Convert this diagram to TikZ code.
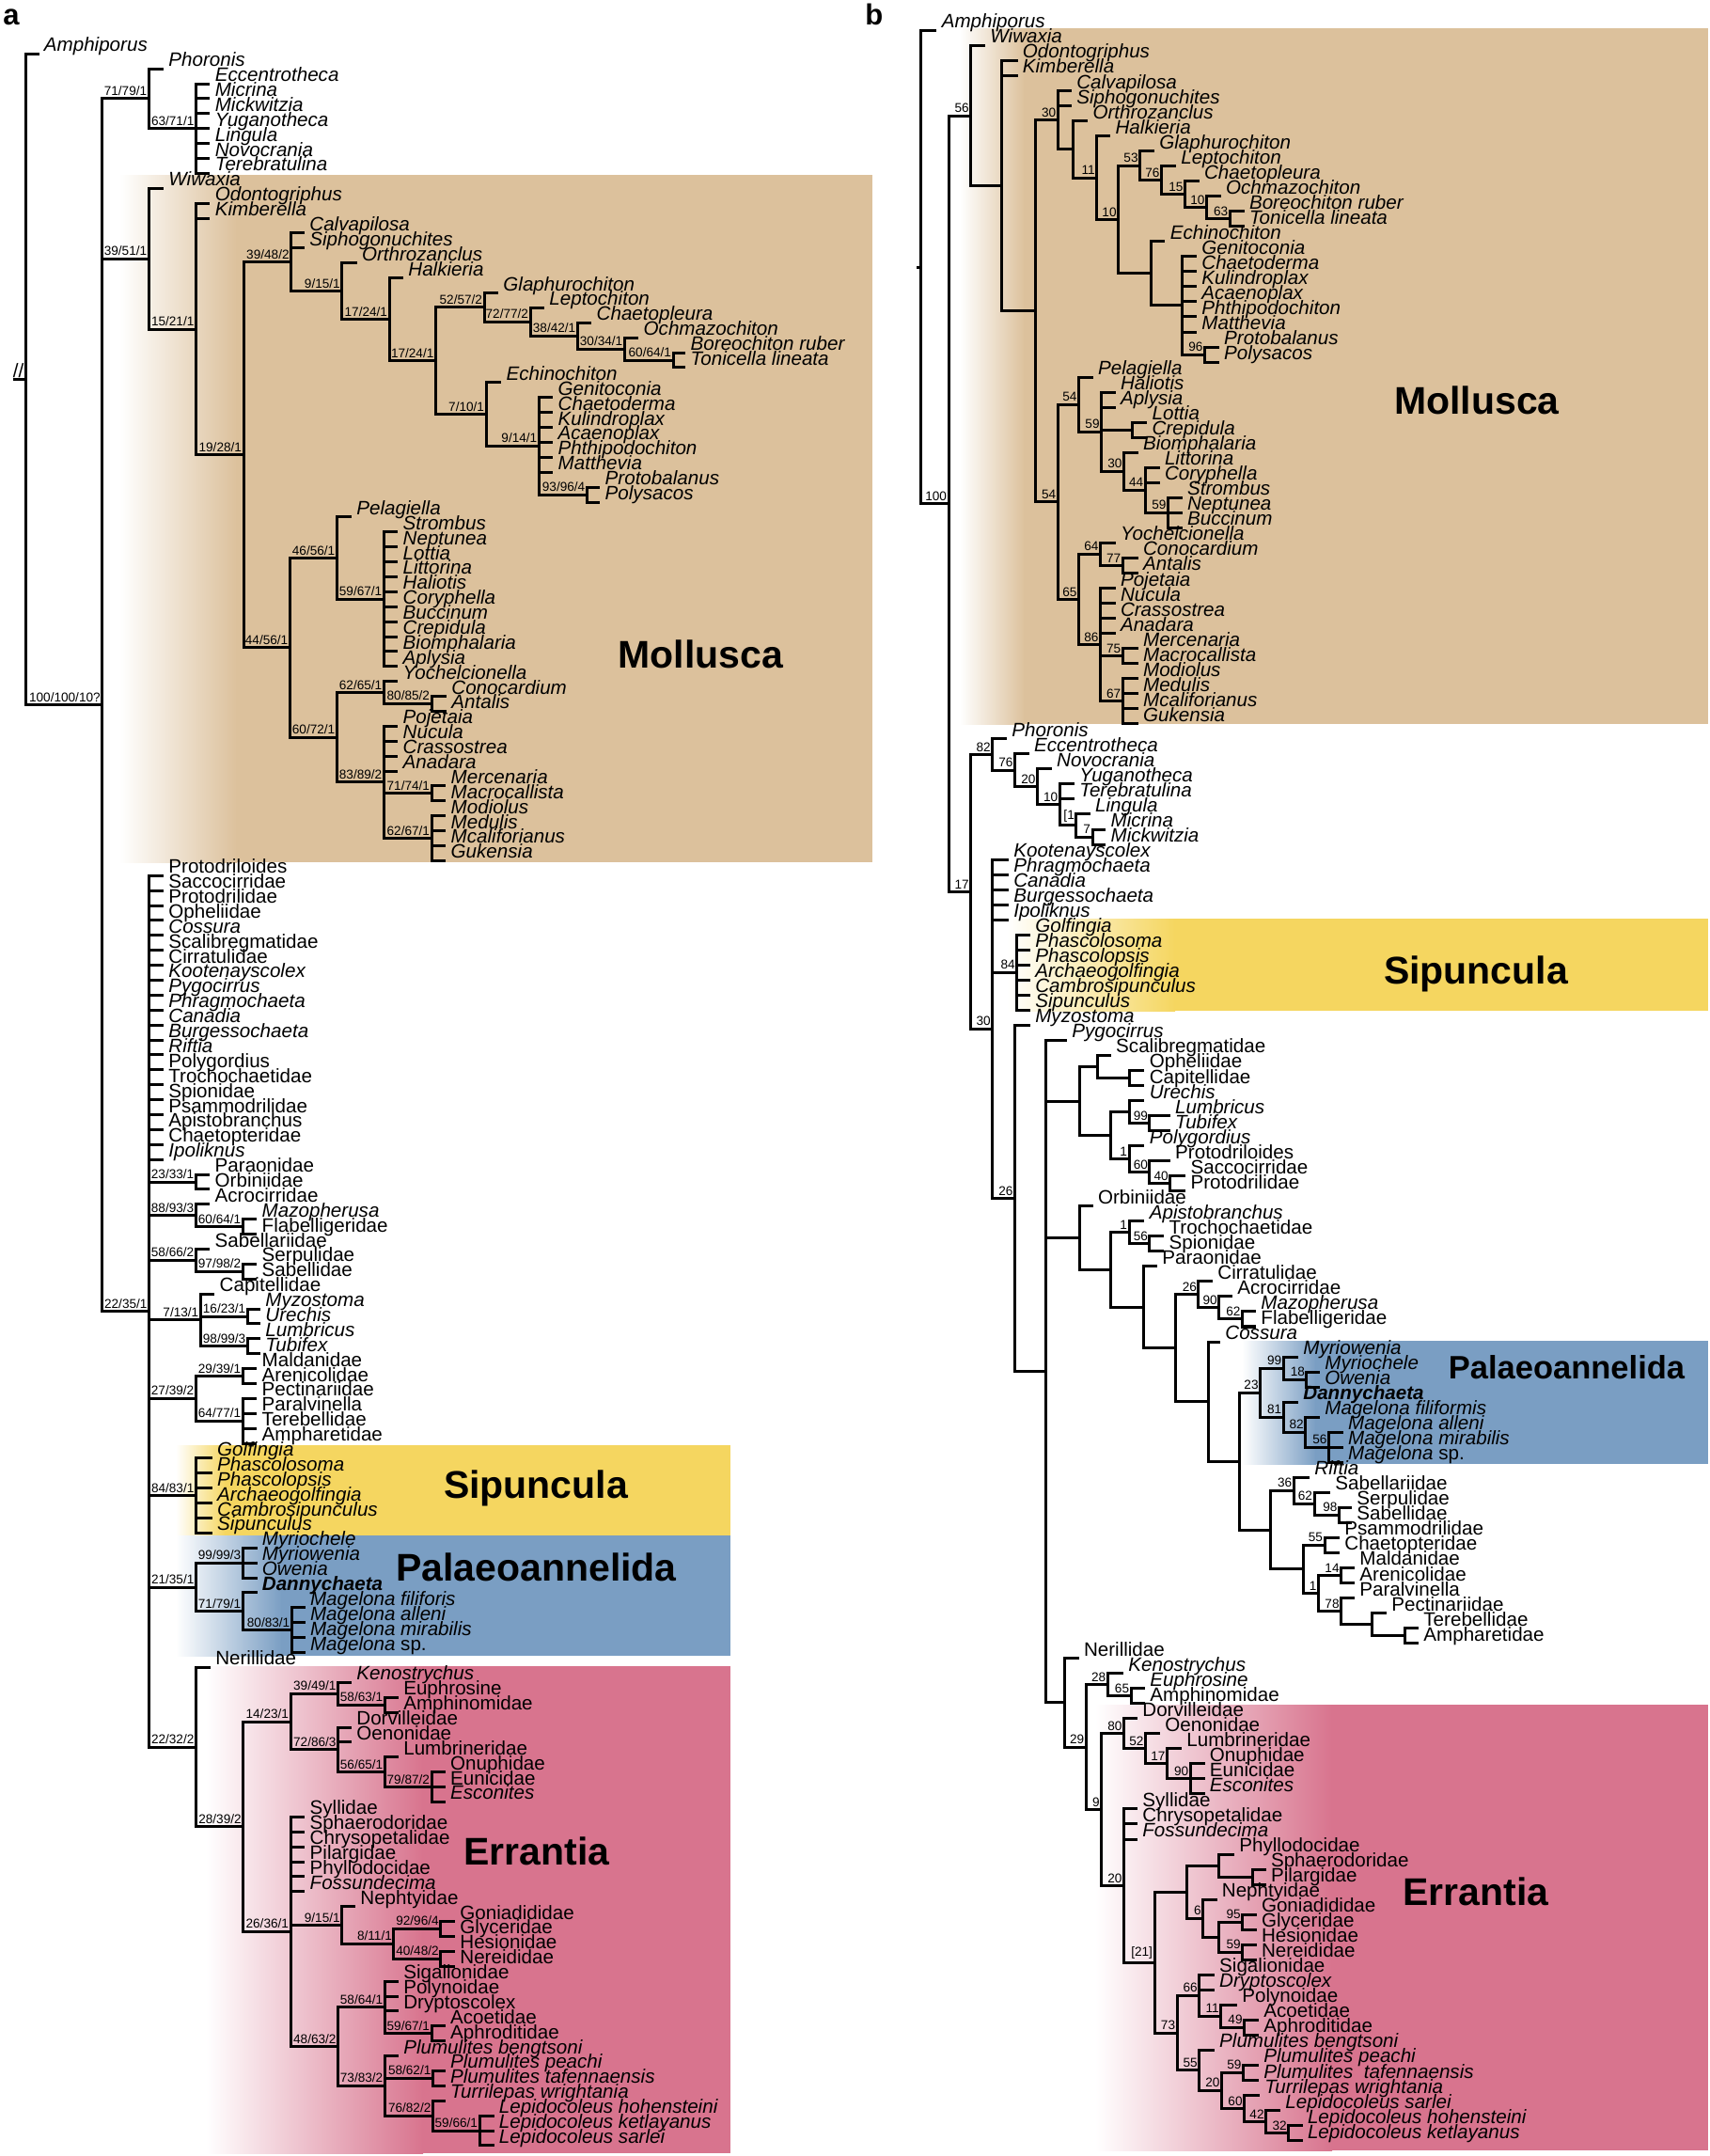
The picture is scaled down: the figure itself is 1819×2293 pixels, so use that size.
\documentclass[tikz,border=0pt]{standalone}
\usepackage{fontspec}
\setmainfont{Liberation Sans}
\usetikzlibrary{calc}
\definecolor{mollc}{RGB}{220,193,156}
\definecolor{sipc}{RGB}{245,214,96}
\definecolor{palc}{RGB}{122,158,195}
\definecolor{errc}{RGB}{216,116,142}
\newcommand\leaffont{\fontsize{10.3}{11}\selectfont}
\newcommand\supfont{\fontsize{6.8}{7}\selectfont}
\newcommand\grpfont{\bfseries\fontsize{20.5}{22}\selectfont}
\tikzset{
  br/.style={line width=1.5pt},
  lf/.style={anchor=base west, inner sep=0pt, xshift=2.5pt, yshift=1.25pt, font=\leaffont},
  lfi/.style={lf, font=\leaffont\itshape},
  sup/.style={anchor=south east, inner sep=0pt, xshift=-0.8pt, yshift=1.5pt, font=\supfont},
  grp/.style={anchor=base, inner sep=0pt, font=\grpfont},
}
\newcommand\la[3]{\coordinate (a#1) at (#2,{57.3+(#1-1)*15.89}); \node[lfi] (a#1t) at (a#1) {#3};}
\newcommand\lau[3]{\coordinate (a#1) at (#2,{57.3+(#1-1)*15.89}); \node[lf] (a#1t) at (a#1) {#3};}
\newcommand\lb[3]{\coordinate (b#1) at (#2,{32.4+(#1-1)*16.03}); \node[lfi] (b#1t) at (b#1) {#3};}
\newcommand\lbu[3]{\coordinate (b#1) at (#2,{32.4+(#1-1)*16.03}); \node[lf] (b#1t) at (b#1) {#3};}
\newcommand\nd[4]{%
  \foreach \nch [count=\ncnt] in {#3} {\ifnum\ncnt=1 \xdef\ndfirst{\nch}\fi \xdef\ndlast{\nch}}%
  \coordinate (#1x) at (#2,0);
  \path ($(\ndfirst)!0.5!(\ndlast)$) coordinate (#1m);
  \coordinate (#1) at (#1x |- #1m);
  \foreach \nch in {#3} {\draw[br] (#1) |- (\nch);}
  \if\relax\detokenize{#4}\relax\else\node[sup] (#1s) at (#1) {#4};\fi}
\begin{document}
\begin{tikzpicture}[x=0.5pt,y=-0.5pt]
\useasboundingbox (0,0) rectangle (1819,2293);
\fill[white] (0,0) rectangle (1819,2293);
% ---------- coloured boxes, tree a
\shade[left color=white,right color=mollc] (127,186) rectangle (252,917);
\fill[mollc] (251,186) rectangle (928,917);
\shade[left color=white,right color=sipc] (187,1537) rectangle (240,1633);
\fill[sipc] (239,1537) rectangle (776.5,1633);
\shade[left color=white,right color=palc] (187,1633) rectangle (300,1761);
\fill[palc] (299,1633) rectangle (776.5,1761);
\shade[left color=white,right color=errc] (219,1772) rectangle (450,2290);
\fill[errc] (449,1772) rectangle (776.5,2290);
% ---------- coloured boxes, tree b
\shade[left color=white,right color=mollc] (1021,30) rectangle (1090,770);
\fill[mollc] (1089,30) rectangle (1817,770);
\shade[left color=white,right color=sipc] (1071,977) rectangle (1250,1075);
\fill[sipc] (1249,977) rectangle (1817,1075);
\shade[left color=white,right color=palc] (1321,1426) rectangle (1400,1557);
\fill[palc] (1399,1426) rectangle (1817,1557);
\shade[left color=white,right color=errc] (1165,1813) rectangle (1417,2287);
\fill[errc] (1416,1813) rectangle (1817,2287);
% ---------- panel letters and group names
\node[anchor=base west, inner sep=0pt, font=\bfseries\fontsize{15.5}{16}\selectfont] (pa) at (3,26) {a};
\node[anchor=base west, inner sep=0pt, font=\bfseries\fontsize{15.5}{16}\selectfont] (pb) at (920,26) {b};
\node[grp] (gma) at (745.5,710) {Mollusca};
\node[grp] (gsa) at (570,1593) {Sipuncula};
\node[grp] (gpa) at (570.5,1681) {Palaeoannelida};
\node[grp] (gea) at (571,1983) {Errantia};
\node[grp] (gmb) at (1571,440) {Mollusca};
\node[grp] (gsb) at (1570,1046) {Sipuncula};
\node[grp, font=\bfseries\fontsize{17.25}{18}\selectfont] (gpb) at (1666.5,1466) {Palaeoannelida};
\node[grp] (geb) at (1570,2026) {Errantia};
% ================= TREE A leaves
\la{1}{41.5}{Amphiporus}
\la{2}{174}{Phoronis}
\la{3}{223.4}{Eccentrotheca}
\la{4}{223.4}{Micrina}
\la{5}{223.4}{Mickwitzia}
\la{6}{223.4}{Yuganotheca}
\la{7}{223.4}{Lingula}
\la{8}{223.4}{Novocrania}
\la{9}{223.4}{Terebratulina}
\la{10}{174}{Wiwaxia}
\la{11}{223.4}{Odontogriphus}
\la{12}{223.4}{Kimberella}
\la{13}{324}{Calvapilosa}
\la{14}{324}{Siphogonuchites}
\la{15}{379.6}{Orthrozanclus}
\la{16}{429}{Halkieria}
\la{17}{530}{Glaphurochiton}
\la{18}{579}{Leptochiton}
\la{19}{629.3}{Chaetopleura}
\la{20}{679.3}{Ochmazochiton}
\la{21}{729.3}{Boreochiton ruber}
\la{22}{729.3}{Tonicella lineata}
\la{23}{533.3}{Echinochiton}
\la{24}{588.3}{Genitoconia}
\la{25}{588.3}{Chaetoderma}
\la{26}{588.3}{Kulindroplax}
\la{27}{588.3}{Acaenoplax}
\la{28}{588.3}{Phthipodochiton}
\la{29}{588.3}{Matthevia}
\la{30}{638.3}{Protobalanus}
\la{31}{638.3}{Polysacos}
\la{32}{374}{Pelagiella}
\la{33}{423.3}{Strombus}
\la{34}{423.3}{Neptunea}
\la{35}{423.3}{Lottia}
\la{36}{423.3}{Littorina}
\la{37}{423.3}{Haliotis}
\la{38}{423.3}{Coryphella}
\la{39}{423.3}{Buccinum}
\la{40}{423.3}{Crepidula}
\la{41}{423.3}{Biomphalaria}
\la{42}{423.3}{Aplysia}
\la{43}{423.3}{Yochelcionella}
\la{44}{475}{Conocardium}
\la{45}{475}{Antalis}
\la{46}{423.3}{Pojetaia}
\la{47}{423.3}{Nucula}
\la{48}{423.3}{Crassostrea}
\la{49}{423.3}{Anadara}
\la{50}{474.3}{Mercenaria}
\la{51}{474.3}{Macrocallista}
\la{52}{474.3}{Modiolus}
\la{53}{474.3}{Medulis}
\la{54}{474.3}{Mcaliforianus}
\la{55}{474.3}{Gukensia}
\lau{56}{174}{Protodriloides}
\lau{57}{174}{Saccocirridae}
\lau{58}{174}{Protodrilidae}
\lau{59}{174}{Opheliidae}
\la{60}{174}{Cossura}
\lau{61}{174}{Scalibregmatidae}
\lau{62}{174}{Cirratulidae}
\la{63}{174}{Kootenayscolex}
\la{64}{174}{Pygocirrus}
\la{65}{174}{Phragmochaeta}
\la{66}{174}{Canadia}
\la{67}{174}{Burgessochaeta}
\la{68}{174}{Riftia}
\lau{69}{174}{Polygordius}
\lau{70}{174}{Trochochaetidae}
\lau{71}{174}{Spionidae}
\lau{72}{174}{Psammodrilidae}
\lau{73}{174}{Apistobranchus}
\lau{74}{174}{Chaetopteridae}
\la{75}{174}{Ipoliknus}
\lau{76}{223.3}{Paraonidae}
\lau{77}{223.3}{Orbiniidae}
\lau{78}{223.3}{Acrocirridae}
\la{79}{273.3}{Mazopherusa}
\lau{80}{273.3}{Flabelligeridae}
\lau{81}{223.3}{Sabellariidae}
\lau{82}{273.3}{Serpulidae}
\lau{83}{273.3}{Sabellidae}
\lau{84}{228.3}{Capitellidae}
\la{85}{277}{Myzostoma}
\la{86}{277}{Urechis}
\la{87}{277}{Lumbricus}
\la{88}{277}{Tubifex}
\lau{89}{273.3}{Maldanidae}
\lau{90}{273.3}{Arenicolidae}
\lau{91}{273.3}{Pectinariidae}
\lau{92}{273.3}{Paralvinella}
\lau{93}{273.3}{Terebellidae}
\lau{94}{273.3}{Ampharetidae}
\la{95}{225.8}{Golfingia}
\la{96}{225.8}{Phascolosoma}
\la{97}{225.8}{Phascolopsis}
\la{98}{225.8}{Archaeogolfingia}
\la{99}{225.8}{Cambrosipunculus}
\la{100}{225.8}{Sipunculus}
\la{101}{273.5}{Myriochele}
\la{102}{273.5}{Myriowenia}
\la{103}{273.5}{Owenia}
\lau{104}{273.5}{\textbf{\textit{Dannychaeta}}}
\la{105}{324.6}{Magelona filiforis}
\la{106}{324.6}{Magelona alleni}
\la{107}{324.6}{Magelona mirabilis}
\lau{108}{324.6}{\textit{Magelona} sp.}
\lau{109}{223.9}{Nerillidae}
\la{110}{374}{Kenostrychus}
\lau{111}{423.9}{Euphrosine}
\lau{112}{423.9}{Amphinomidae}
\lau{113}{374}{Dorvilleidae}
\lau{114}{374}{Oenonidae}
\lau{115}{423.9}{Lumbrineridae}
\lau{116}{473.7}{Onuphidae}
\lau{117}{473.7}{Eunicidae}
\la{118}{473.7}{Esconites}
\lau{119}{324.3}{Syllidae}
\lau{120}{324.3}{Sphaerodoridae}
\lau{121}{324.3}{Chrysopetalidae}
\lau{122}{324.3}{Pilargidae}
\lau{123}{324.3}{Phyllodocidae}
\la{124}{324.3}{Fossundecima}
\lau{125}{378}{Nephtyidae}
\lau{126}{484}{Goniadididae}
\lau{127}{484}{Glyceridae}
\lau{128}{484}{Hesionidae}
\lau{129}{484}{Nereididae}
\lau{130}{423.9}{Sigalionidae}
\lau{131}{423.9}{Polynoidae}
\lau{132}{423.9}{Dryptoscolex}
\lau{133}{473.7}{Acoetidae}
\lau{134}{473.7}{Aphroditidae}
\la{135}{423.9}{Plumulites bengtsoni}
\la{136}{473.7}{Plumulites peachi}
\la{137}{473.7}{Plumulites tafennaensis}
\la{138}{473.7}{Turrilepas wrightania}
\la{139}{525.5}{Lepidocoleus hohensteini}
\la{140}{525.5}{Lepidocoleus ketlayanus}
\la{141}{525.5}{Lepidocoleus sarlei}
% ================= TREE A internal nodes
\nd{an63}{208.4}{a3,a4,a5,a6,a7,a8,a9}{63/71/1}
\nd{an71}{158.2}{a2,an63}{71/79/1}
\nd{an60}{716}{a21,a22}{60/64/1}
\nd{an30}{664.3}{a20,an60}{30/34/1}
\nd{an38}{614.3}{a19,an30}{38/42/1}
\nd{an72}{564}{a18,an38}{72/77/2}
\nd{an52}{515}{a17,an72}{52/57/2}
\nd{an93}{624.3}{a30,a31}{93/96/4}
\nd{an9b}{573.3}{a24,a25,a26,a27,a28,a29,an93}{9/14/1}
\nd{an7}{517}{a23,an9b}{7/10/1}
\nd{an17b}{463.4}{an52,an7}{17/24/1}
\nd{an17a}{414}{a16,an17b}{17/24/1}
\nd{an9}{363.8}{a15,an17a}{9/15/1}
\nd{an39b}{309.6}{a13,a14,an9}{39/48/2}
\nd{an59}{408.3}{a33,a34,a35,a36,a37,a38,a39,a40,a41,a42}{59/67/1}
\nd{an46}{358.3}{a32,an59}{46/56/1}
\nd{an80}{459}{a44,a45}{80/85/2}
\nd{an62}{408.3}{a43,an80}{62/65/1}
\nd{an71b}{459}{a50,a51}{71/74/1}
\nd{an62b}{459}{a52,a53,a54,a55}{62/67/1}
\nd{an83}{408.3}{a46,a47,a48,a49,an71b,an62b}{83/89/2}
\nd{an60b}{358.3}{an62,an83}{60/72/1}
\nd{an44}{308.3}{an46,an60b}{44/56/1}
\nd{an19}{259}{an39b,an44}{19/28/1}
\nd{an15}{208.4}{a11,a12,an19}{15/21/1}
\nd{an39}{158.2}{a10,an15}{39/51/1}
\nd{an23}{208.3}{a76,a77}{23/33/1}
\nd{an60c}{258.3}{a79,a80}{60/64/1}
\nd{an88}{208.3}{a78,an60c}{88/93/3}
\nd{an97}{258.3}{a82,a83}{97/98/2}
\nd{an58}{208.3}{a81,an97}{58/66/2}
\nd{an16}{263.3}{a85,a86}{16/23/1}
\nd{an98}{263.3}{a87,a88}{98/99/3}
\nd{an7b}{213.3}{a84,an16,an98}{7/13/1}
\nd{an29}{258.3}{a89,a90}{29/39/1}
\nd{an64}{258.3}{a91,a92,a93,a94}{64/77/1}
\nd{an27}{208.3}{an29,an64}{27/39/2}
\nd{an84}{208.4}{a95,a96,a97,a98,a99,a100}{84/83/1}
\nd{an99}{258.3}{a101,a102,a103}{99/99/3}
\nd{an80b}{310.3}{a105,a106,a107,a108}{80/83/1}
\nd{an71c}{258.3}{a104,an80b}{71/79/1}
\nd{an21}{208.4}{an99,an71c}{21/35/1}
\nd{an58b}{409.3}{a111,a112}{58/63/1}
\nd{an39c}{359.5}{a110,an58b}{39/49/1}
\nd{an79}{459}{a116,a117,a118}{79/87/2}
\nd{an56}{409.3}{a115,an79}{56/65/1}
\nd{an72b}{359.5}{a113,a114,an56}{72/86/3}
\nd{an14}{309}{an39c,an72b}{14/23/1}
\nd{an92}{468.7}{a126,a127}{92/96/4}
\nd{an40}{468.7}{a128,a129}{40/48/2}
\nd{an8}{418.9}{an92,an40}{8/11/1}
\nd{an9c}{363.7}{a125,an8}{9/15/1}
\nd{an59b}{459}{a133,a134}{59/67/1}
\nd{an58c}{409.3}{a130,a131,a132,an59b}{58/64/1}
\nd{an58d}{460.4}{a136,a137}{58/62/1}
\nd{an59c}{510}{a139,a140,a141}{59/66/1}
\nd{an76}{460.4}{a138,an59c}{76/82/2}
\nd{an73}{409.3}{a135,an58d,an76}{73/83/2}
\nd{an48}{359.5}{an58c,an73}{48/63/2}
\nd{an26}{309}{a119,a120,a121,a122,a123,a124,an9c,an48}{26/36/1}
\nd{an28}{258.7}{an14,an26}{28/39/2}
\nd{an22b}{208.4}{a109,an28}{22/32/2}
\nd{an22}{158.5}{a56,a57,a58,a59,a60,a61,a62,a63,a64,a65,a66,a67,a68,a69,a70,a71,a72,a73,a74,a75,an23,an88,an58,an7b,an27,an84,an21,an22b}{22/35/1}
\nd{an100}{108.7}{an71,an39,an22}{100/100/10?}
\nd{aroot}{27}{a1,an100}{}
\coordinate (astubx) at (13.5,0);
\coordinate (astub) at (astubx |- aroot);
\draw[br] (astub) -- (aroot);
\node[anchor=south west, inner sep=0pt, font=\leaffont] (aslash) at ([yshift=0.8pt]astub) {//};
% ================= TREE B leaves
\lb{1}{996.4}{Amphiporus}
\lb{2}{1048}{Wiwaxia}
\lb{3}{1082.5}{Odontogriphus}
\lb{4}{1082.5}{Kimberella}
\lb{5}{1139.9}{Calvapilosa}
\lb{6}{1139.9}{Siphogonuchites}
\lb{7}{1157.1}{Orthrozanclus}
\lb{8}{1181.2}{Halkieria}
\lb{9}{1227.9}{Glaphurochiton}
\lb{10}{1250.9}{Leptochiton}
\lb{11}{1275.7}{Chaetopleura}
\lb{12}{1298.7}{Ochmazochiton}
\lb{13}{1323.6}{Boreochiton ruber}
\lb{14}{1323.6}{Tonicella lineata}
\lb{15}{1239.4}{Echinochiton}
\lb{16}{1273}{Genitoconia}
\lb{17}{1273}{Chaetoderma}
\lb{18}{1273}{Kulindroplax}
\lb{19}{1273}{Acaenoplax}
\lb{20}{1273}{Phthipodochiton}
\lb{21}{1273}{Matthevia}
\lb{22}{1296.8}{Protobalanus}
\lb{23}{1296.8}{Polysacos}
\lb{24}{1162.8}{Pelagiella}
\lb{25}{1186.6}{Haliotis}
\lb{26}{1186.6}{Aplysia}
\lb{27}{1220.2}{Lottia}
\lb{28}{1220.2}{Crepidula}
\lb{29}{1210.7}{Biomphalaria}
\lb{30}{1233.6}{Littorina}
\lb{31}{1233.6}{Coryphella}
\lb{32}{1257.7}{Strombus}
\lb{33}{1257.7}{Neptunea}
\lb{34}{1257.7}{Buccinum}
\lb{35}{1186.6}{Yochelcionella}
\lb{36}{1210.7}{Conocardium}
\lb{37}{1210.7}{Antalis}
\lb{38}{1186.6}{Pojetaia}
\lb{39}{1186.6}{Nucula}
\lb{40}{1186.6}{Crassostrea}
\lb{41}{1186.6}{Anadara}
\lb{42}{1210.7}{Mercenaria}
\lb{43}{1210.7}{Macrocallista}
\lb{44}{1210.7}{Modiolus}
\lb{45}{1210.7}{Medulis}
\lb{46}{1210.7}{Mcaliforianus}
\lb{47}{1210.7}{Gukensia}
\lb{48}{1071}{Phoronis}
\lb{49}{1094.7}{Eccentrotheca}
\lb{50}{1118.8}{Novocrania}
\lb{51}{1142.9}{Yuganotheca}
\lb{52}{1142.9}{Terebratulina}
\lb{53}{1159.8}{Lingula}
\lb{54}{1176.2}{Micrina}
\lb{55}{1176.2}{Mickwitzia}
\lb{56}{1072.9}{Kootenayscolex}
\lb{57}{1072.9}{Phragmochaeta}
\lb{58}{1072.9}{Canadia}
\lb{59}{1072.9}{Burgessochaeta}
\lb{60}{1072.9}{Ipoliknus}
\lb{61}{1095.9}{Golfingia}
\lb{62}{1095.9}{Phascolosoma}
\lb{63}{1095.9}{Phascolopsis}
\lb{64}{1095.9}{Archaeogolfingia}
\lb{65}{1095.9}{Cambrosipunculus}
\lb{66}{1095.9}{Sipunculus}
\lb{67}{1095.9}{Myzostoma}
\lb{68}{1135}{Pygocirrus}
\lbu{69}{1181.8}{Scalibregmatidae}
\lbu{70}{1217.4}{Opheliidae}
\lbu{71}{1217.4}{Capitellidae}
\lb{72}{1217.4}{Urechis}
\lb{73}{1244.8}{Lumbricus}
\lb{74}{1244.8}{Tubifex}
\lb{75}{1217.4}{Polygordius}
\lbu{76}{1244.8}{Protodriloides}
\lbu{77}{1261.2}{Saccocirridae}
\lbu{78}{1261.2}{Protodrilidae}
\lbu{79}{1162.6}{Orbiniidae}
\lb{80}{1217.4}{Apistobranchus}
\lbu{81}{1238.2}{Trochochaetidae}
\lbu{82}{1238.2}{Spionidae}
\lbu{83}{1231}{Paraonidae}
\lbu{84}{1290}{Cirratulidae}
\lbu{85}{1311}{Acrocirridae}
\lb{86}{1336}{Mazopherusa}
\lbu{87}{1336}{Flabelligeridae}
\lb{88}{1298}{Cossura}
\lb{89}{1381}{Myriowenia}
\lb{90}{1404}{Myriochele}
\lb{91}{1404}{Owenia}
\lbu{92}{1381}{\textbf{\textit{Dannychaeta}}}
\lb{93}{1404}{Magelona filiformis}
\lb{94}{1428.7}{Magelona alleni}
\lb{95}{1428.7}{Magelona mirabilis}
\lbu{96}{1428.7}{\textit{Magelona} sp.}
\lb{97}{1393}{Riftia}
\lbu{98}{1415}{Sabellariidae}
\lbu{99}{1438}{Serpulidae}
\lbu{100}{1438}{Sabellidae}
\lbu{101}{1425}{Psammodrilidae}
\lbu{102}{1425}{Chaetopteridae}
\lbu{103}{1441}{Maldanidae}
\lbu{104}{1441}{Arenicolidae}
\lbu{105}{1441}{Paralvinella}
\lbu{106}{1475}{Pectinariidae}
\lbu{107}{1509}{Terebellidae}
\lbu{108}{1509}{Ampharetidae}
\lbu{109}{1147.6}{Nerillidae}
\lb{110}{1195}{Kenostrychus}
\lb{111}{1218}{Euphrosine}
\lbu{112}{1218}{Amphinomidae}
\lbu{113}{1210}{Dorvilleidae}
\lbu{114}{1234}{Oenonidae}
\lbu{115}{1257}{Lumbrineridae}
\lbu{116}{1281.5}{Onuphidae}
\lbu{117}{1281.5}{Eunicidae}
\lb{118}{1281.5}{Esconites}
\lbu{119}{1210}{Syllidae}
\lbu{120}{1210}{Chrysopetalidae}
\lb{121}{1210}{Fossundecima}
\lbu{122}{1313}{Phyllodocidae}
\lbu{123}{1346.6}{Sphaerodoridae}
\lbu{124}{1346.6}{Pilargidae}
\lbu{125}{1294.5}{Nephtyidae}
\lbu{126}{1336.6}{Goniadididae}
\lbu{127}{1336.6}{Glyceridae}
\lbu{128}{1336.6}{Hesionidae}
\lbu{129}{1336.6}{Nereididae}
\lbu{130}{1291.8}{Sigalionidae}
\lb{131}{1291.8}{Dryptoscolex}
\lbu{132}{1316}{Polynoidae}
\lbu{133}{1339}{Acoetidae}
\lbu{134}{1339}{Aphroditidae}
\lb{135}{1291.8}{Plumulites bengtsoni}
\lb{136}{1339}{Plumulites peachi}
\lb{137}{1339}{Plumulites\ \ tafennaensis}
\lb{138}{1340}{Turrilepas wrightania}
\lb{139}{1362}{Lepidocoleus sarlei}
\lb{140}{1385.6}{Lepidocoleus hohensteini}
\lb{141}{1385.6}{Lepidocoleus ketlayanus}
% ================= TREE B internal nodes
\nd{bn63}{1308.3}{b13,b14}{63}
\nd{bn10c}{1283.4}{b12,bn63}{10}
\nd{bn15}{1260.4}{b11,bn10c}{15}
\nd{bn76}{1235.5}{b10,bn15}{76}
\nd{bn53}{1212.6}{b9,bn76}{53}
\nd{bn96}{1281.5}{b22,b23}{96}
\nd{bnG}{1257.7}{b16,b17,b18,b19,b20,b21,bn96}{}
\nd{bnE}{1224}{b15,bnG}{}
\nd{bn10}{1189.6}{bn53,bnE}{10}
\nd{bn11}{1166.7}{b8,bn10}{11}
\nd{bnO}{1141.8}{b7,bn11}{}
\nd{bn30}{1125.3}{b5,b6,bnO}{30}
\nd{bnLC}{1204.9}{b27,b28}{}
\nd{bn59d}{1242.4}{b32,b33,b34}{59}
\nd{bn44}{1218.3}{b30,b31,bn59d}{44}
\nd{bn30c}{1195.4}{b29,bn44}{30}
\nd{bn59c}{1171.6}{b25,b26,bnLC,bn30c}{59}
\nd{bn54c}{1147.5}{b24,bn59c}{54}
\nd{bn77}{1194.2}{b36,b37}{77}
\nd{bn64}{1170.5}{b35,bn77}{64}
\nd{bn75}{1194.2}{b42,b43}{75}
\nd{bn67}{1194.2}{b44,b45,b46,b47}{67}
\nd{bn86}{1170.5}{b38,b39,b40,b41,bn75,bn67}{86}
\nd{bn65}{1147.5}{bn64,bn86}{65}
\nd{bn54b}{1125.3}{bn54c,bn65}{54}
\nd{bnX}{1101.6}{bn30,bn54b}{}
\nd{bnOd}{1065.2}{b3,b4,bnX}{}
\nd{bn56}{1032.7}{b2,bnOd}{56}
\nd{bn7}{1162}{b54,b55}{7}
\nd{bn1}{1144.8}{b53,bn7}{[1}
\nd{bnYT}{1127.2}{b51,b52,bn1}{10}
\nd{bn20}{1103.5}{b50,bnYT}{20}
\nd{bn76c}{1079.4}{b49,bn20}{76}
\nd{bn82}{1055.7}{b48,bn76c}{82}
\nd{bn84}{1081.7}{b61,b62,b63,b64,b65,b66}{84}
\nd{bnOC}{1201}{b70,b71}{}
\nd{bnA1}{1167}{b69,bnOC}{}
\nd{bn99}{1222.9}{b73,b74}{99}
\nd{bnU}{1201}{b72,bn99}{}
\nd{bn40}{1244.8}{b77,b78}{40}
\nd{bn60}{1222.9}{b76,bn40}{60}
\nd{bn1a}{1201}{b75,bn60}{1}
\nd{bnA2}{1181.8}{bnU,bn1a}{}
\nd{bnA}{1148.9}{bnA1,bnA2}{}
\nd{bn56c}{1222.9}{b81,b82}{56}
\nd{bn1b}{1201}{b80,bn56c}{1}
\nd{bn62c}{1321.4}{b86,b87}{62}
\nd{bn90}{1296.8}{b85,bn62c}{90}
\nd{bn26c}{1274.9}{b84,bn90}{26}
\nd{bn18}{1389.9}{b90,b91}{18}
\nd{bn99c}{1365.3}{b89,bn18}{99}
\nd{bn56d}{1413.5}{b94,b95,b96}{56}
\nd{bn82b}{1388.8}{b93,bn56d}{82}
\nd{bn81}{1365.3}{b92,bn82b}{81}
\nd{bn23}{1340.6}{bn99c,bn81}{23}
\nd{bn98c}{1424.4}{b99,b100}{98}
\nd{bn62d}{1398}{b98,bn98c}{62}
\nd{bn36}{1376.2}{b97,bn62d}{36}
\nd{bn55}{1409}{b101,b102}{55}
\nd{bn14}{1426.6}{b103,b104}{14}
\nd{bnO2}{1494}{b107,b108}{}
\nd{bnP}{1459.4}{b106,bnO2}{}
\nd{bn78}{1426.6}{b105,bnP}{78}
\nd{bn1c}{1402.5}{bn14,bn78}{1}
\nd{bnQ}{1386}{bn55,bn1c}{}
\nd{bnR}{1351.6}{bn36,bnQ}{}
\nd{bnS}{1318.7}{bn23,bnR}{}
\nd{bnT}{1285.8}{b88,bnS}{}
\nd{bnV}{1250.3}{bn26c,bnT}{}
\nd{bnW}{1216.3}{b83,bnV}{}
\nd{bnZ}{1181.8}{bn1b,bnW}{}
\nd{bnB}{1148.9}{b79,bnZ}{}
\nd{bn65b}{1203.1}{b111,b112}{65}
\nd{bn28}{1178.2}{b110,bn65b}{28}
\nd{bn90b}{1266.2}{b116,b117,b118}{90}
\nd{bn17}{1241.4}{b115,bn90b}{17}
\nd{bn52}{1218.4}{b114,bn17}{52}
\nd{bn80}{1195.4}{b113,bn52}{80}
\nd{bnSP}{1332.4}{b123,b124}{}
\nd{bnPhy}{1296.8}{b122,bnSP}{}
\nd{bn95}{1321.7}{b126,b127}{95}
\nd{bn59e}{1321.7}{b128,b129}{59}
\nd{bnGH}{1296.8}{bn95,bn59e}{}
\nd{bn6}{1279.6}{b125,bnGH}{6}
\nd{bnPh}{1262.4}{bnPhy,bn6}{}
\nd{bn49}{1323.6}{b133,b134}{49}
\nd{bn11b}{1298.8}{b132,bn49}{11}
\nd{bn66}{1275.8}{b130,b131,bn11b}{66}
\nd{bn59f}{1322.4}{b136,b137}{59}
\nd{bn32}{1370.7}{b140,b141}{32}
\nd{bn42}{1346.6}{b139,bn32}{42}
\nd{bn60e}{1323.6}{b138,bn42}{60}
\nd{bn20c}{1299.5}{bn59f,bn60e}{20}
\nd{bn55b}{1275.8}{b135,bn20c}{55}
\nd{bn73}{1252.1}{bn66,bn55b}{73}
\nd{bn21}{1228}{bnPh,bn73}{[21]}
\nd{bn20b}{1195.4}{b119,b120,b121,bn21}{20}
\nd{bn9}{1171.7}{bn80,bn20b}{9}
\nd{bn29}{1155.2}{bn28,bn9}{29}
\nd{bnE2}{1132.3}{b109,bn29}{}
\nd{bnY}{1112.2}{b68,bnA,bnB,bnE2}{}
\nd{bn26}{1079.4}{b67,bnY}{26}
\nd{bn30d}{1055.7}{b56,b57,b58,b59,b60,bn84,bn26}{30}
\nd{bn17c}{1032.7}{bn82,bn30d}{17}
\nd{bn100}{1009}{bn56,bn17c}{100}
\nd{broot}{979.1}{b1,bn100}{}
\coordinate (bstubx) at (975,0);
\coordinate (bstub) at (bstubx |- broot);
\draw[br] (bstub) -- (broot);
\end{tikzpicture}
\end{document}
